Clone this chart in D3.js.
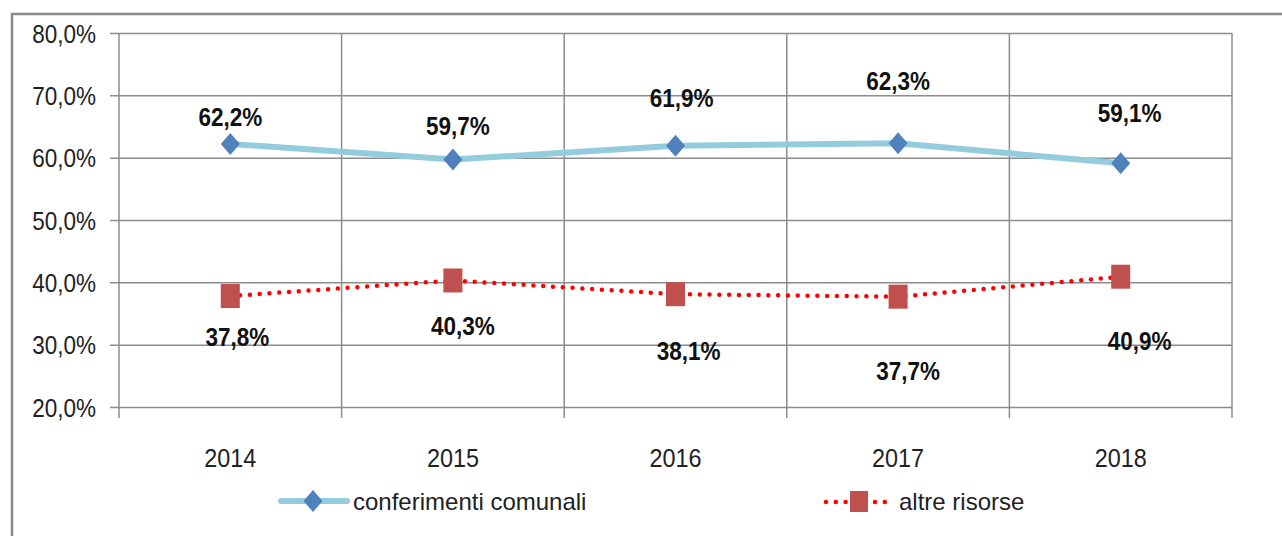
<!DOCTYPE html>
<html>
<head>
<meta charset="utf-8">
<script src="https://cdn.jsdelivr.net/npm/d3@7"></script>
<style>
  body { margin: 0; background: #fff; }
  svg { display: block; font-family: "Liberation Sans", Arial, sans-serif; }
</style>
</head>
<body>
<svg id="chart" width="1282" height="536"></svg>
<script>
const years = ["2014", "2015", "2016", "2017", "2018"];
const conferimenti = [62.2, 59.7, 61.9, 62.3, 59.1];
const altre = [37.8, 40.3, 38.1, 37.7, 40.9];
const yTicks = [20, 30, 40, 50, 60, 70, 80];
const seriesNames = ["conferimenti comunali", "altre risorse"];

// where the labels sit round each point in the picture (dx, dy)
const topShift = [[0, -18], [5, -25], [6, -39], [0, -53], [9, -41]];
const lowShift = [[7, 50], [10, 55], [13, 66], [10, 83], [19, 73]];

const W = 1282, H = 536;
const plotL = 119, plotR = 1232, plotT = 33, plotB = 407;
const gridCol = "#8c8c8c";
const fmt = (d) => d.toFixed(1).replace(".", ",") + "%";

const svg = d3.select("#chart").attr("viewBox", [0, 0, W, H]);

// outer frame (only the left and top edges are in view)
svg.append("path")
  .attr("d", `M12,${H} L12,14 L${W},14`)
  .attr("fill", "none")
  .attr("stroke", "#8a8a8a")
  .attr("stroke-width", 2.5);

const x = d3.scaleBand().domain(years).range([plotL, plotR]);
const y = d3.scaleLinear().domain([20, 80]).range([plotB, plotT]);
const cx = (i) => x(years[i]) + x.bandwidth() / 2;

// horizontal grid + y labels
const gy = svg.append("g")
  .attr("transform", `translate(${plotR},0)`)
  .call(d3.axisLeft(y).tickValues(yTicks).tickSize(plotR - 110).tickPadding(0).tickFormat(fmt));
gy.select(".domain").remove();
gy.attr("font-size", null).attr("font-family", null);
gy.selectAll("line").attr("stroke", gridCol).attr("stroke-width", 1.5);
gy.selectAll("text")
  .attr("x", 0)
  .attr("dy", null)
  .attr("transform", `translate(${96 - plotR},9) scale(0.9,1)`)
  .attr("fill", "#222")
  .style("font-size", "25px");

// vertical grid at category boundaries, running a bit below the plot
const bounds = d3.range(years.length + 1).map((i) => plotL + i * x.step());
svg.append("g")
  .selectAll("line")
  .data(bounds)
  .join("line")
  .attr("x1", (d) => d)
  .attr("x2", (d) => d)
  .attr("y1", plotT)
  .attr("y2", 418)
  .attr("stroke", gridCol)
  .attr("stroke-width", 1.5);

// x labels
const gx = svg.append("g")
  .attr("transform", `translate(0,${plotB})`)
  .call(d3.axisBottom(x).tickSize(0).tickPadding(0));
gx.select(".domain").remove();
gx.attr("font-size", null).attr("font-family", null);
gx.selectAll("text")
  .attr("y", 0)
  .attr("dy", null)
  .attr("transform", "translate(0,60) scale(0.9,1)")
  .attr("fill", "#222")
  .style("font-size", "26px");

// lines
const line = d3.line().x((d, i) => cx(i)).y((d) => y(d));

svg.append("path")
  .datum(conferimenti)
  .attr("d", line)
  .attr("fill", "none")
  .attr("stroke", "#93cddd")
  .attr("stroke-width", 6)
  .attr("stroke-linejoin", "round");

svg.append("path")
  .datum(altre)
  .attr("d", line)
  .attr("fill", "none")
  .attr("stroke", "#ff0000")
  .attr("stroke-width", 4.5)
  .attr("stroke-linecap", "round")
  .attr("stroke-dasharray", "0 9.8");

const diamond = "M0,-11L9.5,0L0,11L-9.5,0Z";

svg.append("g")
  .selectAll("path")
  .data(conferimenti)
  .join("path")
  .attr("d", diamond)
  .attr("transform", (d, i) => `translate(${cx(i)},${y(d)})`)
  .attr("fill", "#4f81bd");

svg.append("g")
  .selectAll("rect")
  .data(altre)
  .join("rect")
  .attr("x", (d, i) => cx(i) - 9.5)
  .attr("y", (d) => y(d) - 12)
  .attr("width", 19)
  .attr("height", 24)
  .attr("fill", "#c0504d");

// data labels
function labels(data, shift) {
  svg.append("g")
    .selectAll("text")
    .data(data)
    .join("text")
    .attr("transform", (d, i) =>
      `translate(${cx(i) + shift[i][0]},${y(d) + shift[i][1]}) scale(0.9,1)`)
    .attr("text-anchor", "middle")
    .attr("font-weight", "bold")
    .attr("font-size", 25)
    .attr("fill", "#111")
    .text(fmt);
}
labels(conferimenti, topShift);
labels(altre, lowShift);

// legend
const lg = svg.append("g");
lg.append("line")
  .attr("x1", 281).attr("x2", 347).attr("y1", 501).attr("y2", 501)
  .attr("stroke", "#93cddd").attr("stroke-width", 6).attr("stroke-linecap", "round");
lg.append("path").attr("d", diamond).attr("transform", "translate(313,501)").attr("fill", "#4f81bd");
lg.append("text").attr("x", 353).attr("y", 510).attr("font-size", 24).attr("fill", "#222").text(seriesNames[0]);

lg.append("line")
  .attr("x1", 826).attr("x2", 888).attr("y1", 502).attr("y2", 502)
  .attr("stroke", "#ff0000").attr("stroke-width", 4.5)
  .attr("stroke-linecap", "round").attr("stroke-dasharray", "0 9.8");
lg.append("rect").attr("x", 850).attr("y", 491).attr("width", 18).attr("height", 21).attr("fill", "#c0504d");
lg.append("text").attr("x", 899).attr("y", 510).attr("font-size", 24).attr("fill", "#222").text(seriesNames[1]);
</script>
</body>
</html>
